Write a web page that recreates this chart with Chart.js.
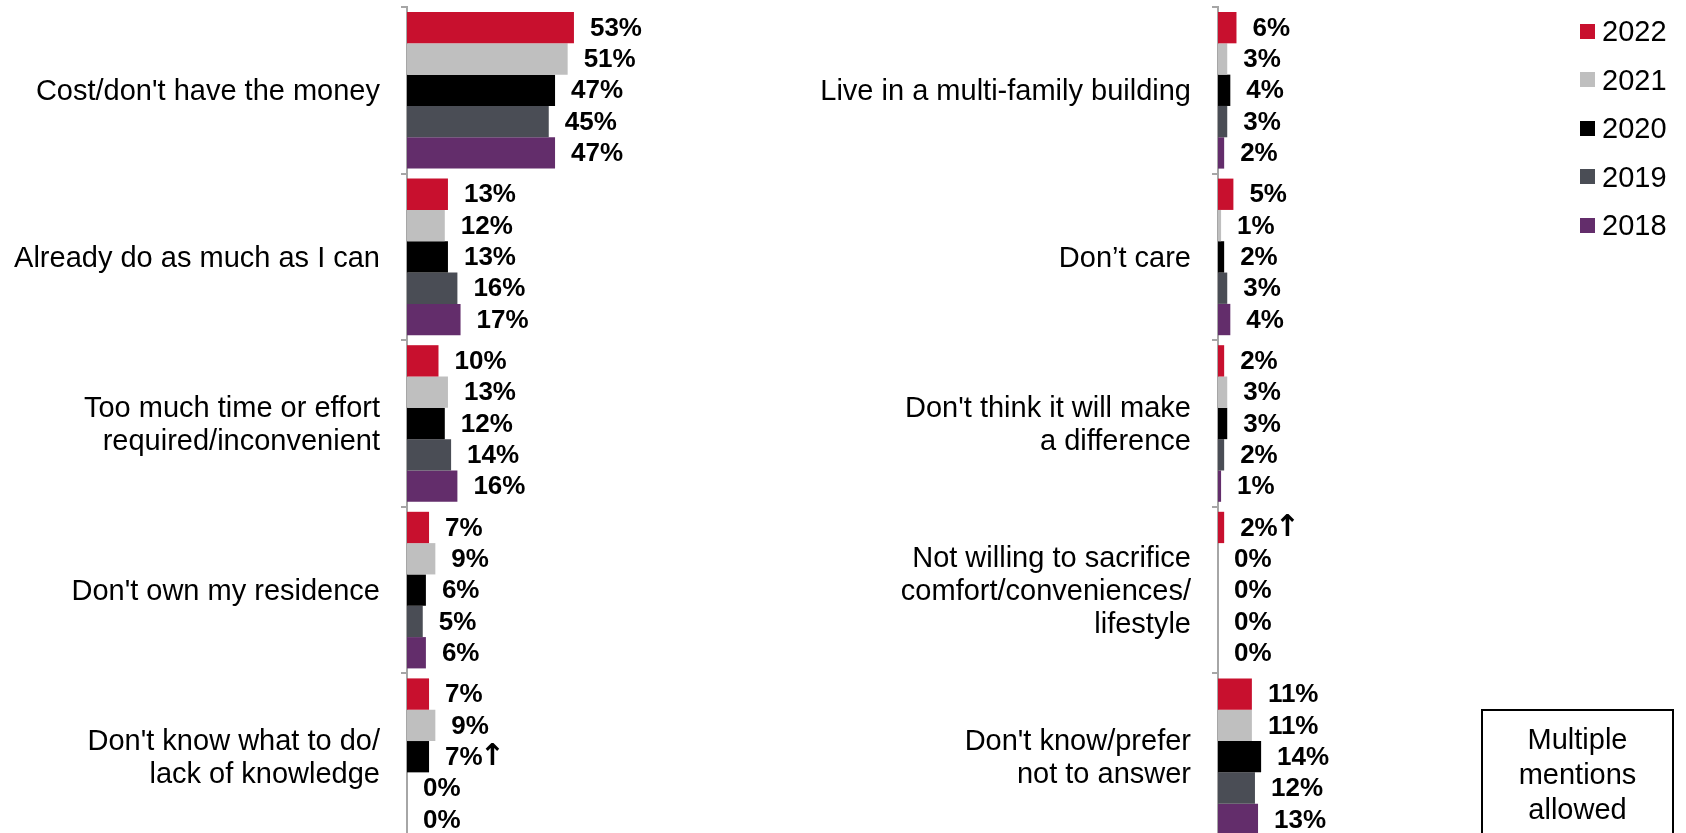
<!DOCTYPE html>
<html>
<head>
<meta charset="utf-8">
<script src="https://cdn.jsdelivr.net/npm/chart.js@4.4.1/dist/chart.umd.min.js"></script>
<style>
  html, body { margin:0; padding:0; background:#fff; overflow:hidden; width:1686px; height:833px;
    font-family:"Liberation Sans", Arial, sans-serif; }
  canvas { position:absolute; top:0; }
  #cL { left:0; }
  #cR { left:790px; }
  .legItem { position:absolute; left:1580px; height:34px; display:flex; align-items:center;
    font-size:29px; line-height:34px; color:#000; white-space:nowrap; }
  .legSwatch { width:15px; height:15px; margin-right:7px; flex:none; }
  #note { position:absolute; left:1481px; top:709px; width:193px; height:150px; box-sizing:border-box;
    border:2px solid #000; text-align:center; font-size:29px; line-height:35px; padding-top:11px; color:#000; }
</style>
</head>
<body>
<canvas id="cL" width="780" height="845"></canvas>
<canvas id="cR" width="896" height="845"></canvas>
<div id="legend"></div>
<div id="note">Multiple<br>mentions<br>allowed</div>
<script>
// ---------- data ----------
const years = ['2022', '2021', '2020', '2019', '2018'];

const leftCategories = [
  ["Cost/don't have the money"],
  ["Already do as much as I can"],
  ["Too much time or effort", "required/inconvenient"],
  ["Don't own my residence"],
  ["Don't know what to do/", "lack of knowledge"]
];
const rightCategories = [
  ["Live in a multi-family building"],
  ["Don\u2019t care"],
  ["Don't think it will make", "a difference"],
  ["Not willing to sacrifice", "comfort/conveniences/", "lifestyle"],
  ["Don't know/prefer", "not to answer"]
];

const left2022 = [53, 13, 10, 7, 7];
const left2021 = [51, 12, 13, 9, 9];
const left2020 = [47, 13, 12, 6, 7];
const left2019 = [45, 16, 14, 5, 0];
const left2018 = [47, 17, 16, 6, 0];

const right2022 = [6, 5, 2, 2, 11];
const right2021 = [3, 1, 3, 0, 11];
const right2020 = [4, 2, 3, 0, 14];
const right2019 = [3, 3, 2, 0, 12];
const right2018 = [2, 4, 1, 0, 13];

// significant-increase markers (year, category index)
const leftUpMarks = [{ year: '2020', category: 4 }];
const rightUpMarks = [{ year: '2022', category: 3 }];

// ---------- styles ----------
const seriesColors = ['#C8102E', '#BFBFBF', '#000000', '#4A4D55', '#632D6B'];
const FONT = '"Liberation Sans", Arial, sans-serif';
const AXIS_GRAY = '#A6A6A6';

// ---------- legend ----------
const legendEl = document.getElementById('legend');
years.forEach((y, i) => {
  const item = document.createElement('div');
  item.className = 'legItem';
  item.style.top = (31 + i * 48.5 - 17) + 'px';
  const sw = document.createElement('span');
  sw.className = 'legSwatch';
  sw.style.background = seriesColors[i];
  const tx = document.createElement('span');
  tx.textContent = y;
  item.appendChild(sw); item.appendChild(tx);
  legendEl.appendChild(item);
});

function makeLabelPlugin(marks) {
  return {
    id: 'valueLabels',
    afterDatasetsDraw(chart) {
      const ctx = chart.ctx;
      ctx.save();
      ctx.fillStyle = '#000';
      ctx.textBaseline = 'middle';
      ctx.textAlign = 'left';
      chart.data.datasets.forEach((ds, i) => {
        const meta = chart.getDatasetMeta(i);
        meta.data.forEach((bar, j) => {
          const txt = ds.data[j] + '%';
          const x = bar.x + 16;
          ctx.font = 'bold 26px ' + FONT;
          ctx.fillText(txt, x, bar.y + 1);
          if (marks.some(m => m.year === ds.label && m.category === j)) {
            const w = ctx.measureText(txt).width;
            ctx.font = 'bold 30px "DejaVu Sans", sans-serif';
            ctx.fillText('\u2191', x + w - 3, bar.y + 1);
          }
        });
      });
      ctx.restore();
    }
  };
}

function makeChart(canvasId, categories, seriesValues, marks, axisWidth, padRight) {
  const datasets = years.map((y, i) => ({
    label: y,
    data: seriesValues[i],
    backgroundColor: seriesColors[i],
    borderWidth: 0,
    categoryPercentage: 0.94,
    barPercentage: 1.0
  }));
  return new Chart(document.getElementById(canvasId), {
    type: 'bar',
    data: { labels: categories, datasets },
    options: {
      indexAxis: 'y',
      responsive: false,
      animation: false,
      devicePixelRatio: 1,
      layout: { padding: { top: 7, bottom: 5, left: 0, right: padRight } },
      scales: {
        x: { display: false, min: 0, max: 100 },
        y: {
          position: 'left',
          grid: { display: true, drawOnChartArea: false, drawTicks: true, tickLength: 6,
                  color: AXIS_GRAY, lineWidth: 2, offset: true },
          border: { display: true, color: AXIS_GRAY, width: 2 },
          ticks: { autoSkip: false, padding: 21, color: '#000', labelOffset: 2,
                   font: { family: FONT, size: 29, lineHeight: 1.15 } },
          afterFit(scale) {
            scale.width = axisWidth;
            scale.paddingTop = 0;
            scale.paddingBottom = 0;
          }
        }
      },
      plugins: { legend: { display: false }, tooltip: { enabled: false } }
    },
    plugins: [makeLabelPlugin(marks)]
  });
}

makeChart('cL', leftCategories, [left2022, left2021, left2020, left2019, left2018], leftUpMarks, 407, 58);
makeChart('cR', rightCategories, [right2022, right2021, right2020, right2019, right2018], rightUpMarks, 428, 160);
</script>
</body>
</html>
